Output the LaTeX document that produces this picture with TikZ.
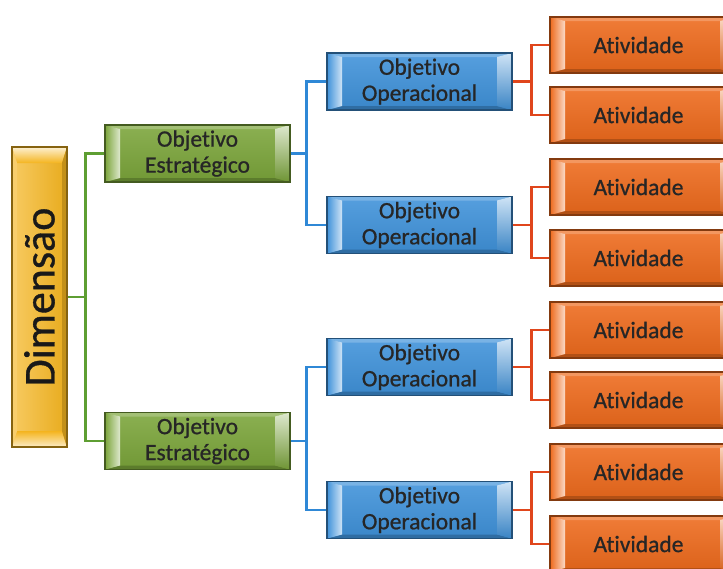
\documentclass[tikz,border=0pt]{standalone}
\usepackage{fontspec}
\setmainfont[RawFeature=-liga, FakeBold=0.8]{Carlito}
\definecolor{gr}{HTML}{7BA53A}
\definecolor{bl}{HTML}{3F92DA}
\definecolor{orr}{HTML}{EE6A1C}
\definecolor{yl}{HTML}{F4B41E}
\definecolor{gcol}{HTML}{5E9E32}
\definecolor{bcol}{HTML}{2F88D6}
\definecolor{ocol}{HTML}{E0461C}
\begin{document}
\begin{tikzpicture}[x=1pt,y=-1pt,
  corners/.style={path picture={
    \coordinate (@bl) at (path picture bounding box.south west);
    \coordinate (@tl) at (path picture bounding box.north west);
    \coordinate (@br) at (path picture bounding box.south east);
    \coordinate (@tr) at (path picture bounding box.north east);
    #1}},
  hbox/.style={rectangle, inner sep=0pt, align=center,
    minimum width=185pt, minimum height=57pt,
    font=\fontsize{23.5}{26}\selectfont, text=black!85,
    draw=#1!55!black, line width=1.1pt,
    top color=#1!88!white, bottom color=#1!92!black,
    corners={
      \fill[#1!70!white] (@tl) -- (@tr) -- ([shift={(-15pt,-4pt)}]@tr) -- ([shift={(15pt,-4pt)}]@tl) -- cycle;
      \fill[#1!75!black] (@bl) -- (@br) -- ([shift={(-15pt,4pt)}]@br) -- ([shift={(15pt,4pt)}]@bl) -- cycle;
      \shade[left color=#1, right color=#1!25!white] (@bl) -- (@tl) -- ([shift={(15pt,-4pt)}]@tl) -- ([shift={(15pt,4pt)}]@bl) -- cycle;
      \shade[top color=#1!25!white, bottom color=#1!90!black] (@br) -- (@tr) -- ([shift={(-15pt,-4pt)}]@tr) -- ([shift={(-15pt,4pt)}]@br) -- cycle;
    }},
  vbox/.style={rectangle, inner sep=0pt, align=center,
    minimum width=55pt, minimum height=300pt,
    text=black!90,
    draw=#1!55!black, line width=1.1pt,
    left color=#1!70!white, right color=#1!95!black,
    corners={
      \shade[top color=#1!20!white, bottom color=#1] (@tl) -- (@tr) -- ([shift={(-5pt,-16pt)}]@tr) -- ([shift={(5pt,-16pt)}]@tl) -- cycle;
      \shade[top color=#1, bottom color=#1!25!white] (@bl) -- (@br) -- ([shift={(-5pt,16pt)}]@br) -- ([shift={(5pt,16pt)}]@bl) -- cycle;
      \fill[#1!65!white] (@tl) -- (@bl) -- ([shift={(5pt,16pt)}]@bl) -- ([shift={(5pt,-16pt)}]@tl) -- cycle;
      \fill[#1!80!black] (@tr) -- (@br) -- ([shift={(-5pt,16pt)}]@br) -- ([shift={(-5pt,-16pt)}]@tr) -- cycle;
    }},
  gcon/.style={draw=gcol, line width=2.4pt},
  bcon/.style={draw=bcol, line width=2.4pt},
  ocon/.style={draw=ocol, line width=2.4pt},
]
\useasboundingbox (0,0) rectangle (723,568);
\clip (0,0) rectangle (723,568);
\fill[white] (0,0) rectangle (723,568);

% Dimension
\node[vbox=yl] (d) at (39.5,297) {\rotatebox{90}{\fontsize{44}{44}\selectfont Dimensão}};

% Strategic objectives
\node[hbox=gr] (e1) at (197.5,153.5) {Objetivo\\Estratégico};
\node[hbox=gr] (e2) at (197.5,441) {Objetivo\\Estratégico};

% Operational objectives
\node[hbox=bl] (o1) at (419.5,81.5) {Objetivo\\Operacional};
\node[hbox=bl] (o2) at (419.5,225) {Objetivo\\Operacional};
\node[hbox=bl] (o3) at (419.5,367) {Objetivo\\Operacional};
\node[hbox=bl] (o4) at (419.5,510) {Objetivo\\Operacional};

% Activities
\foreach \i/\y in {1/45,2/115,3/187,4/258,5/330,6/400,7/472,8/544}{
  \node[hbox=orr, minimum height=56pt] (a\i) at (642.5,\y) {\hspace*{-8pt}Atividade};
}

% Connectors
\coordinate (jd) at (86,297);
\draw[gcon] (d.east) -- (jd);
\draw[gcon] (e1.west) -- ++(-19pt,0) |- (e2.west);

\draw[bcon] (e1.east) -- ++(17pt,0);
\draw[bcon] (o1.west) -- ++(-20pt,0) |- (o2.west);
\draw[bcon] (e2.east) -- ++(17pt,0);
\draw[bcon] (o3.west) -- ++(-20pt,0) |- (o4.west);

\foreach \o/\p/\q in {o1/a1/a2,o2/a3/a4,o3/a5/a6,o4/a7/a8}{
  \draw[ocon] (\o.east) -- ++(20pt,0);
  \draw[ocon] (\p.west) -- ++(-18pt,0) |- (\q.west);
}
\end{tikzpicture}
\end{document}
